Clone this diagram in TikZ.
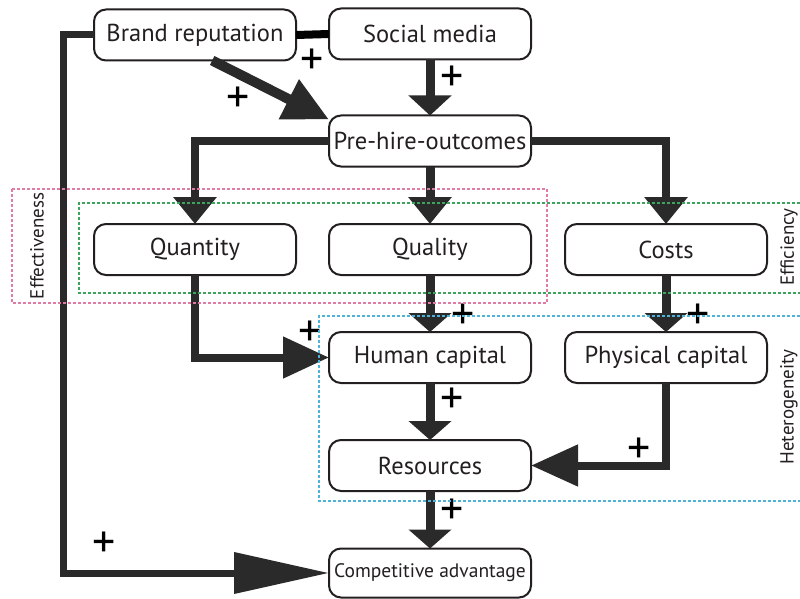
\documentclass[tikz,border=0pt]{standalone}
\usepackage{fontspec}
\setmainfont{PT Sans}
\usetikzlibrary{arrows.meta}
\definecolor{pinkd}{HTML}{E07BA5}
\definecolor{greend}{HTML}{3DA35D}
\definecolor{blued}{HTML}{4FB3D9}
\definecolor{ink}{HTML}{231F20}
\definecolor{headc}{HTML}{2A2A2A}
\tikzset{
  box/.style={draw=ink, line width=2pt, rounded corners=12pt, minimum width=202pt, minimum height=51pt, inner sep=0pt, outer sep=0pt, font=\fontsize{24.5}{26}\selectfont, text=ink},
  conn/.style={draw=headc, line width=9pt},
  head/.style={-{Triangle[length=#1, width=42pt]}},
  plus/.style={font=\fontsize{46}{46}\selectfont, text=black, inner sep=0pt},
  dashbox/.style={line width=1.5pt, dash pattern=on 3pt off 2pt},
  vlabel/.style={rotate=90, font=\fontsize{19}{20}\selectfont, text=ink, inner sep=0pt}
}
\begin{document}
\begin{tikzpicture}[x=1pt,y=-1pt]
\useasboundingbox[fill=white] (0,0) rectangle (800,599);
% nodes
\node[box] (br) at (195,35) {Brand reputation};
\node[box] (sm) at (430,34) {Social media};
\node[box] (ph) at (430,141) {Pre-hire-outcomes};
\node[box] (qn) at (195,249.5) {Quantity};
\node[box] (ql) at (430,249.5) {Quality};
\node[box] (co) at (666,249.5) {Costs};
\node[box] (hc) at (430,357.5) {Human capital};
\node[box] (pc) at (666,357.5) {Physical capital};
\node[box] (rs) at (430,465.5) {Resources};
\node[box, minimum height=49pt, font=\fontsize{19.5}{21}\selectfont] (ca) at (430,573) {Competitive advantage};
% connectors
\coordinate (lc) at (63,35);
\draw[line width=7pt, draw=black, -{Triangle[length=95pt,width=40pt]}, headc] (br.west) -- (lc) |- (ca.west);
\draw[line width=8pt, black] (br.east) -- (sm.west);
\draw[conn, line width=10pt, -{Triangle[length=45pt,width=42pt]}] (br.-56) -- (ph.168);
\draw[conn, head=20pt] (sm.south) -- (ph.north);
\draw[conn, line width=8pt, head=27pt] (ph.west) -| (qn.north);
\draw[conn, head=27pt] (ph.south) -- (ql.north);
\draw[conn, line width=8pt, head=27pt] (ph.east) -| (co.north);
\draw[conn, head=19pt] (ql.south) -- (hc.north);
\draw[conn, head=19pt] (co.south) -- (pc.north);
\draw[conn, line width=8pt, -{Triangle[length=46pt,width=40pt]}] (qn.south) |- (hc.west);
\draw[conn, head=19pt] (hc.south) -- (rs.north);
\draw[conn, line width=8pt, -{Triangle[length=47pt,width=40pt]}] (pc.south) |- (rs.east);
\draw[conn, head=19pt] (rs.south) -- (ca.north);
% plus labels
\node[plus] (p1) at (312,62) {+};
\node[plus] (p2) at (238,100) {+};
\node[plus] (p3) at (452,79) {+};
\node[plus] (p4) at (463,317) {+};
\node[plus] (p5) at (698,317) {+};
\node[plus] (p6) at (310,334) {+};
\node[plus] (p7) at (452,401) {+};
\node[plus] (p8) at (639,451) {+};
\node[plus] (p9) at (452,512) {+};
\node[plus] (p10) at (104,545) {+};
% dashed groups
\draw[dashbox, pinkd] (12,189) rectangle (547,303);
\draw[dashbox, greend] (800,203) -- (79,203) -- (79,293) -- (800,293);
\draw[dashbox, blued] (800,316) -- (319,316) -- (319,501) -- (800,501);
\node[vlabel] (eff) at (37,246) {Effectiveness};
\node[vlabel] (efc) at (789,247) {Efficiency};
\node[vlabel] (het) at (789,407) {Heterogeneity};
\end{tikzpicture}
\end{document}
